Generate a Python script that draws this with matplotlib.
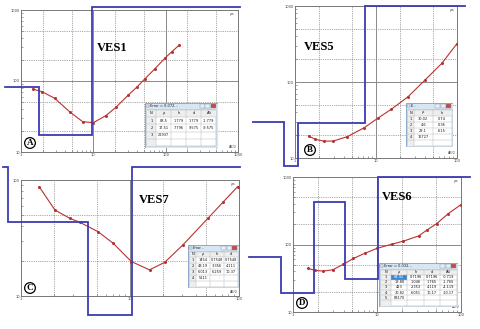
import numpy as np
import matplotlib
matplotlib.use("Agg")
import matplotlib.pyplot as plt
from matplotlib.lines import Line2D
from matplotlib.patches import Rectangle
from matplotlib.ticker import LogLocator, NullFormatter, FixedLocator

# ---- VES1 (A) ----
ves1_ab2 = [1.45, 1.96, 2.92, 4.69, 7.13, 10.0, 14.9, 20.5, 30.5, 40.4, 51, 70.7, 99, 122, 154]
ves1_rho = [77, 70.6, 57, 37, 26.7, 25.9, 32.5, 42.6, 63.5, 83, 106, 148, 213, 259, 321]
ves1_layer_rho = [83.5, 17.51, 22937]
ves1_layer_depth = [1.779, 9.575]
ves1_cols = ["N", "ρ", "h", "d", "Alt"]
ves1_rows = [["1", "83.5", "1.779", "1.779", "-1.779"],
             ["2", "17.51", "7.796", "9.575", "-9.575"],
             ["3", "22937", "", "", ""]]

# ---- VES5 (B) ----
ves5_ab2 = [1.47, 1.78, 2.26, 2.96, 4.43, 7.14, 10.5, 15.4, 24.9, 40.2, 65, 100]
ves5_rho = [19.5, 17.6, 16.7, 16.7, 19.1, 25, 33.3, 43.7, 64, 106, 176, 320]
ves5_layer_rho = [30.02, 4.6, 29.1, 16727]
ves5_layer_depth = [0.74, 1.10, 7.25]
ves5_cols = ["N", "ρ", "h"]
ves5_rows = [["1", "30.02", "0.74"], ["2", "4.6", "0.36"],
             ["3", "29.1", "6.15"], ["4", "16727", ""]]

# ---- VES7 (C) ----
ves7_ab2 = [1.47, 2.05, 2.81, 3.47, 5.1, 7.0, 10.3, 15.1, 20.8, 30.5, 51.8, 72, 97]
ves7_rho = [87.5, 55, 46.7, 43.2, 35.8, 28.5, 19.8, 16.8, 19.5, 27.5, 46.7, 65, 87.5]
ves7_layer_rho = [1454, 43.19, 6.013, 5211]
ves7_layer_depth = [0.7548, 4.111, 10.37]
ves7_cols = ["N", "ρ", "h", "d"]
ves7_rows = [["1", "1454", "0.7548", "0.7548"], ["2", "43.19", "3.356", "4.111"],
             ["3", "6.013", "6.259", "10.37"], ["4", "5211", "", ""]]

# ---- VES6 (D) ----
ves6_ab2 = [1.52, 1.83, 2.30, 2.97, 3.97, 5.22, 7.2, 9.9, 15.0, 20.6, 31.3, 39.1, 51.4, 70.6, 100]
ves6_rho = [44.2, 41.3, 40.4, 42.2, 50.7, 62.1, 74.3, 87.3, 101, 112, 134, 163, 204, 287, 390]
ves6_layer_rho = [64.92, 18.88, 423, 30.82, 83170]
ves6_layer_depth = [0.7196, 1.765, 4.119, 10.17]
ves6_cols = ["N", "ρ", "h", "d", "Alt"]
ves6_rows = [["1", "64.92", "0.7196", "0.7196", "-0.719"],
             ["2", "18.88", "1.046", "1.765", "-1.765"],
             ["3", "423", "2.353", "4.119", "-4.119"],
             ["4", "30.82", "6.051", "10.17", "-10.17"],
             ["5", "83170", "", "", ""]]

W, H = 480, 329
fig = plt.figure(figsize=(W / 100, H / 100), dpi=100)
fig.patch.set_facecolor("white")

BLUE = "#3c3cb4"
RED = "#b83232"
GRID = "#8a8a8a"


def frac_box(l, t, r, b):
    return [l / W, 1 - b / H, (r - l) / W, (b - t) / H]


def make_axes(box, xlim, ylim):
    ax = fig.add_axes(frac_box(*box))
    ax.set_xscale("log")
    ax.set_yscale("log")
    ax.set_xlim(*xlim)
    ax.set_ylim(*ylim)
    for s in ax.spines.values():
        s.set_color("#777777")
        s.set_linewidth(0.7)
    decs_x = [10 ** k for k in range(int(np.log10(xlim[0])), int(np.log10(xlim[1])) + 1)]
    decs_y = [10 ** k for k in range(int(np.log10(ylim[0])), int(np.log10(ylim[1])) + 1)]
    for d in decs_x:
        if xlim[0] < d < xlim[1]:
            ax.axvline(d, color=GRID, lw=0.7, zorder=0)
        for m in (2, 5):
            if xlim[0] < m * d < xlim[1]:
                ax.axvline(m * d, color=GRID, lw=0.6, ls=(0, (1, 1.2)), zorder=0)
    for d in decs_y:
        if ylim[0] < d < ylim[1]:
            ax.axhline(d, color=GRID, lw=0.7, zorder=0)
        for m in (2, 5):
            if ylim[0] < m * d < ylim[1]:
                ax.axhline(m * d, color=GRID, lw=0.6, ls=(0, (1, 1.2)), zorder=0)
    ax.xaxis.set_major_locator(FixedLocator(decs_x))
    ax.yaxis.set_major_locator(FixedLocator(decs_y))
    ax.set_xticklabels([str(d) for d in decs_x])
    ax.set_yticklabels([str(d) for d in decs_y])
    ax.xaxis.set_minor_locator(LogLocator(base=10, subs=range(2, 10)))
    ax.yaxis.set_minor_locator(LogLocator(base=10, subs=range(2, 10)))
    ax.xaxis.set_minor_formatter(NullFormatter())
    ax.yaxis.set_minor_formatter(NullFormatter())
    ax.tick_params(which="both", direction="in", length=1.5, width=0.4, color="#555555",
                   labelsize=2.6, pad=0.8, labelcolor="#444444")
    ax.tick_params(which="major", length=0)
    ax.text(0.985, 0.985, "ρa", transform=ax.transAxes, ha="right", va="top", fontsize=2.6, color="#444444")
    ax.text(0.995, 0.02, "AB/2", transform=ax.transAxes, ha="right", va="bottom", fontsize=2.4, color="#444444")
    return ax


def blue_model(ax, depths, rhos, clip):
    xs = [1e-4]
    ys = [rhos[0]]
    for d, r0, r1 in zip(depths, rhos[:-1], rhos[1:]):
        xs += [d, d]
        ys += [r0, r1]
    xs.append(1e7)
    ys.append(rhos[-1])
    disp = ax.transData.transform(np.column_stack([xs, ys]))
    f = fig.transFigure.inverted().transform(disp)
    l, t, r, b = clip
    fx = np.clip(f[:, 0], l / W, r / W)
    fy = np.clip(f[:, 1], 1 - b / H, 1 - t / H)
    fig.add_artist(Line2D(fx, fy, transform=fig.transFigure, color=BLUE, lw=1.3,
                          solid_joinstyle="miter", zorder=3))


def draw_table(box, title, cols, rows, sel=False):
    l, t, r, b = box
    w, h = r - l, b - t
    tax = fig.add_axes(frac_box(*box), zorder=5)
    tax.set_xlim(0, w)
    tax.set_ylim(h, 0)
    tax.axis("off")
    tax.add_patch(Rectangle((0, 0), w, h, fc="#d6e6f5", ec="#7f9fc4", lw=0.6))
    tb = 6
    tax.text(4.5, tb / 2 + 0.3, title, fontsize=2.6, va="center", ha="left", color="#222222")
    tax.add_patch(Rectangle((1.2, 1.6), 2.4, 2.6, fc="white", ec="#666666", lw=0.3))
    bw = 5.5
    for i, c in enumerate(["#e8eef6", "#e8eef6", "#c94a3c"]):
        x0 = w - 1.5 - (3 - i) * bw
        tax.add_patch(Rectangle((x0, 1.0), bw - 0.5, 4.0, fc=c, ec="#8090a8", lw=0.3))
    x_in, y_in = 1.5, tb + 0.5
    iw, ih = w - 3, h - tb - 2
    tax.add_patch(Rectangle((x_in, y_in), iw, ih, fc="white", ec="#999999", lw=0.3))
    nrow = len(rows) + 2
    rh = ih / nrow
    ncol = len(cols)
    first = iw * 0.14
    other = (iw - first) / (ncol - 1)
    edges = [x_in, x_in + first] + [x_in + first + other * k for k in range(1, ncol)]
    tax.add_patch(Rectangle((x_in, y_in), iw, rh, fc="#eeeeee", ec="none"))
    tax.add_patch(Rectangle((x_in, y_in), first, ih, fc="#eeeeee", ec="none"))
    if sel:
        tax.add_patch(Rectangle((edges[1], y_in + rh), other, rh, fc="#3d86d6", ec="none"))
    for k in range(nrow):
        tax.plot([x_in, x_in + iw], [y_in + rh * k, y_in + rh * k], color="#b0b0b0", lw=0.3)
    for e in edges[1:-1]:
        tax.plot([e, e], [y_in, y_in + ih], color="#b0b0b0", lw=0.3)
    for j, c in enumerate(cols):
        tax.text((edges[j] + edges[j + 1]) / 2, y_in + rh / 2, c, fontsize=2.6,
                 ha="center", va="center", color="#111111")
    for i, row in enumerate(rows):
        for j, v in enumerate(row):
            col = "white" if (sel and i == 0 and j == 1) else "#111111"
            tax.text((edges[j] + edges[j + 1]) / 2, y_in + rh * (i + 1.5), v, fontsize=2.5,
                     ha="center", va="center", color=col)


def ves_label(x, y, s):
    fig.text(x / W, 1 - y / H, s, fontsize=9, fontweight="bold", family="Liberation Serif",
             ha="center", va="center", zorder=6)


def circle_label(x, y, s):
    fig.text(x / W, 1 - y / H, s, fontsize=6.5, fontweight="bold", family="Liberation Serif",
             ha="center", va="center", zorder=6,
             bbox=dict(boxstyle="circle,pad=0.15", fc="white", ec="black", lw=0.9))


panels = [
    dict(box=(21, 10, 238, 152), xlim=(1, 1000), ylim=(10, 1000), clip=(5, 7, 240, 165),
         ab2=ves1_ab2, rho=ves1_rho, lrho=ves1_layer_rho, ldep=ves1_layer_depth,
         tbox=(145, 103, 218, 148), title="Error = 0.072...", cols=ves1_cols, rows=ves1_rows, sel=False,
         name="VES1", npos=(112, 48), letter="A", lpos=(30, 143)),
    dict(box=(295, 6, 457, 158), xlim=(1, 100), ylim=(10, 1000), clip=(253, 6, 465, 166),
         ab2=ves5_ab2, rho=ves5_rho, lrho=ves5_layer_rho, ldep=ves5_layer_depth,
         tbox=(406, 103, 453, 147), title="E...", cols=ves5_cols, rows=ves5_rows, sel=False,
         name="VES5", npos=(319, 47), letter="B", lpos=(310, 150)),
    dict(box=(21, 180, 239, 296), xlim=(1, 100), ylim=(10, 100), clip=(3, 167, 240, 315),
         ab2=ves7_ab2, rho=ves7_rho, lrho=ves7_layer_rho, ldep=ves7_layer_depth,
         tbox=(188, 245, 239, 288), title="Error...", cols=ves7_cols, rows=ves7_rows, sel=False,
         name="VES7", npos=(154, 200), letter="C", lpos=(30, 288)),
    dict(box=(293, 177, 461, 312), xlim=(1, 100), ylim=(10, 1000), clip=(249, 177, 470, 329),
         ab2=ves6_ab2, rho=ves6_rho, lrho=ves6_layer_rho, ldep=ves6_layer_depth,
         tbox=(379, 263, 458, 307), title="Error = 0.032...", cols=ves6_cols, rows=ves6_rows, sel=True,
         name="VES6", npos=(397, 197), letter="D", lpos=(302, 303)),
]

for p in panels:
    ax = make_axes(p["box"], p["xlim"], p["ylim"])
    ax.plot(p["ab2"], p["rho"], color=RED, lw=0.8, marker="o", ms=1.2, mfc=RED, mec=RED, zorder=4)
    blue_model(ax, p["ldep"], p["lrho"], p["clip"])
    draw_table(p["tbox"], p["title"], p["cols"], p["rows"], p["sel"])
    ves_label(*p["npos"], p["name"])
    circle_label(*p["lpos"], p["letter"])

fig.savefig("out.png", dpi=100, facecolor="white")
